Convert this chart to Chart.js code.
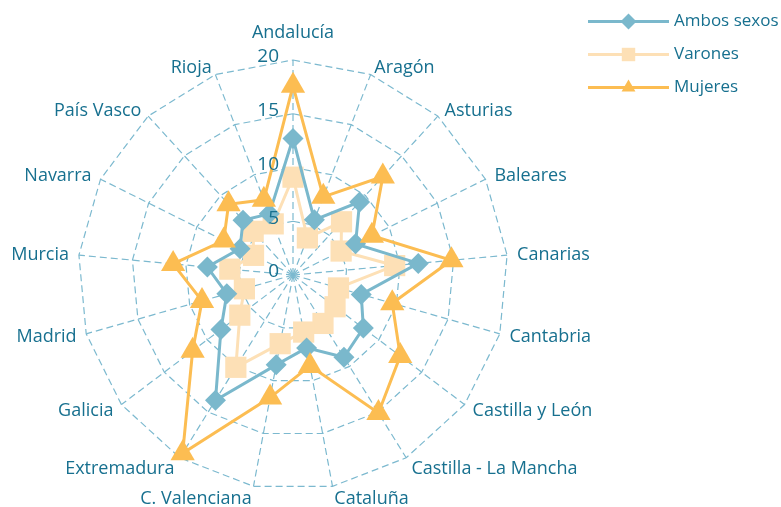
<!DOCTYPE html>
<html lang="es">
<head>
  <meta charset="UTF-8">
  <title>Radar por comunidades autónomas</title>
  <script src="https://cdn.jsdelivr.net/npm/chart.js"></script>
  <style>
    html, body { margin: 0; padding: 0; background: #fff; }
    #wrap { width: 781px; height: 507px; position: relative; }
  </style>
</head>
<body>
  <div id="wrap"><canvas id="radar"></canvas></div>
  <script>
    // Data
    const regiones = ['Andalucía', 'Aragón', 'Asturias', 'Baleares', 'Canarias', 'Cantabria',
      'Castilla y León', 'Castilla - La Mancha', 'Cataluña', 'C. Valenciana', 'Extremadura',
      'Galicia', 'Madrid', 'Murcia', 'Navarra', 'País Vasco', 'Rioja'];
    const ambosSexos = [12.7, 5.5, 9.2, 6.5, 11.7, 6.6, 8.2, 9.0, 6.9, 8.5, 13.7, 8.4, 6.4, 8.0, 5.5, 6.9, 6.1];
    const varones    = [9.1, 3.7, 6.7, 5.0, 9.5, 4.4, 4.9, 5.3, 5.4, 6.5, 10.1, 6.2, 4.7, 5.9, 4.1, 5.5, 5.1];
    const mujeres    = [17.6, 7.8, 12.4, 8.2, 14.8, 9.6, 12.5, 15.1, 8.6, 11.6, 19.5, 11.7, 8.8, 11.2, 7.2, 8.9, 7.5];
    const escalaTicks = [0, 5, 10, 15, 20];

    const textColor = '#17708f';
    const gridColor = '#7cb9cf';
    const fontFamily = '"Open Sans", "Noto Sans", sans-serif';

    // draw a marker shape for the legend
    function marker(ctx, style, x, y, r) {
      ctx.beginPath();
      if (style === 'rectRot') {
        ctx.moveTo(x - r, y); ctx.lineTo(x, y - r); ctx.lineTo(x + r, y); ctx.lineTo(x, y + r);
      } else if (style === 'rect') {
        const s = r * Math.SQRT1_2;
        ctx.rect(x - s, y - s, 2 * s, 2 * s);
      } else {
        ctx.moveTo(x, y - r);
        ctx.lineTo(x + r * 0.866, y + r / 2);
        ctx.lineTo(x - r * 0.866, y + r / 2);
      }
      ctx.closePath();
      ctx.fill();
    }

    // tick numbers, region names and legend
    const etiquetas = {
      id: 'etiquetas',
      afterDraw(chart) {
        const { ctx } = chart;
        const r = chart.scales.r;
        ctx.save();
        ctx.fillStyle = textColor;

        ctx.font = '19px ' + fontFamily;
        ctx.textAlign = 'right';
        ctx.textBaseline = 'middle';
        escalaTicks.forEach(v => {
          const y = r.yCenter - r.getDistanceFromCenterForValue(v) - 3;
          ctx.fillText(String(v), r.xCenter - 14, y);
        });

        ctx.font = '18px ' + fontFamily;
        regiones.forEach((name, i) => {
          const p = r.getPointPosition(i, r.drawingArea + 10);
          const a = p.angle + Math.PI / 2;
          const s = Math.sin(a), c = Math.cos(a);
          let y = p.y + 3 * Math.max(c, 0) + (c < -0.8 ? 3 : 0);
          if (s > 0.05) ctx.textAlign = 'left';
          else if (s < -0.05) ctx.textAlign = 'right';
          else { ctx.textAlign = 'center'; y = p.y - 17; }
          ctx.fillText(name, p.x, y);
        });

        // legend
        ctx.font = '17px ' + fontFamily;
        const lx0 = 588, lx1 = 669;
        chart.data.datasets.forEach((ds, i) => {
          const y = 21.5 + i * 33;
          ctx.strokeStyle = ds.borderColor;
          ctx.lineWidth = 3;
          ctx.beginPath();
          ctx.moveTo(lx0, y); ctx.lineTo(lx1, y);
          ctx.stroke();
          ctx.fillStyle = ds.pointBackgroundColor;
          marker(ctx, ds.pointStyle, (lx0 + lx1) / 2, y, ds.pointStyle === 'rect' ? 9.5 : 8);
          ctx.fillStyle = textColor;
          ctx.textAlign = 'left';
          ctx.fillText(ds.label, 674, y);
        });
        ctx.restore();
      }
    };

    const ctx = document.getElementById('radar').getContext('2d');
    new Chart(ctx, {
      type: 'radar',
      data: {
        labels: regiones,
        datasets: [
          {
            label: 'Ambos sexos', data: ambosSexos, order: 1,
            borderColor: '#7ab8cc', pointBackgroundColor: '#7ab8cc', backgroundColor: '#7ab8cc',
            pointStyle: 'rectRot', pointRadius: 10.5, pointBorderWidth: 0, borderWidth: 3, fill: false
          },
          {
            label: 'Varones', data: varones, order: 2,
            borderColor: '#fde0b6', pointBackgroundColor: '#fde0b6', backgroundColor: '#fde0b6',
            pointStyle: 'rect', pointRadius: 15, pointBorderWidth: 0, borderWidth: 3, fill: false
          },
          {
            label: 'Mujeres', data: mujeres, order: 0,
            borderColor: '#fcbd52', pointBackgroundColor: '#fcbd52', backgroundColor: '#fcbd52',
            pointStyle: 'triangle', pointRadius: 14, pointBorderWidth: 0, borderWidth: 3, fill: false
          }
        ]
      },
      options: {
        responsive: true,
        maintainAspectRatio: false,
        animation: false,
        layout: { padding: { left: 78, top: 60, right: 273, bottom: 17 } },
        plugins: { legend: { display: false }, tooltip: { enabled: false } },
        scales: {
          r: {
            min: 0, max: 20,
            ticks: { display: false, stepSize: 5 },
            pointLabels: { display: false },
            grid: { color: gridColor, lineWidth: 1.2 },
            border: { dash: [7, 4] },
            angleLines: { color: gridColor, lineWidth: 1.2, borderDash: [7, 4] }
          }
        }
      },
      plugins: [etiquetas]
    });
  </script>
</body>
</html>
